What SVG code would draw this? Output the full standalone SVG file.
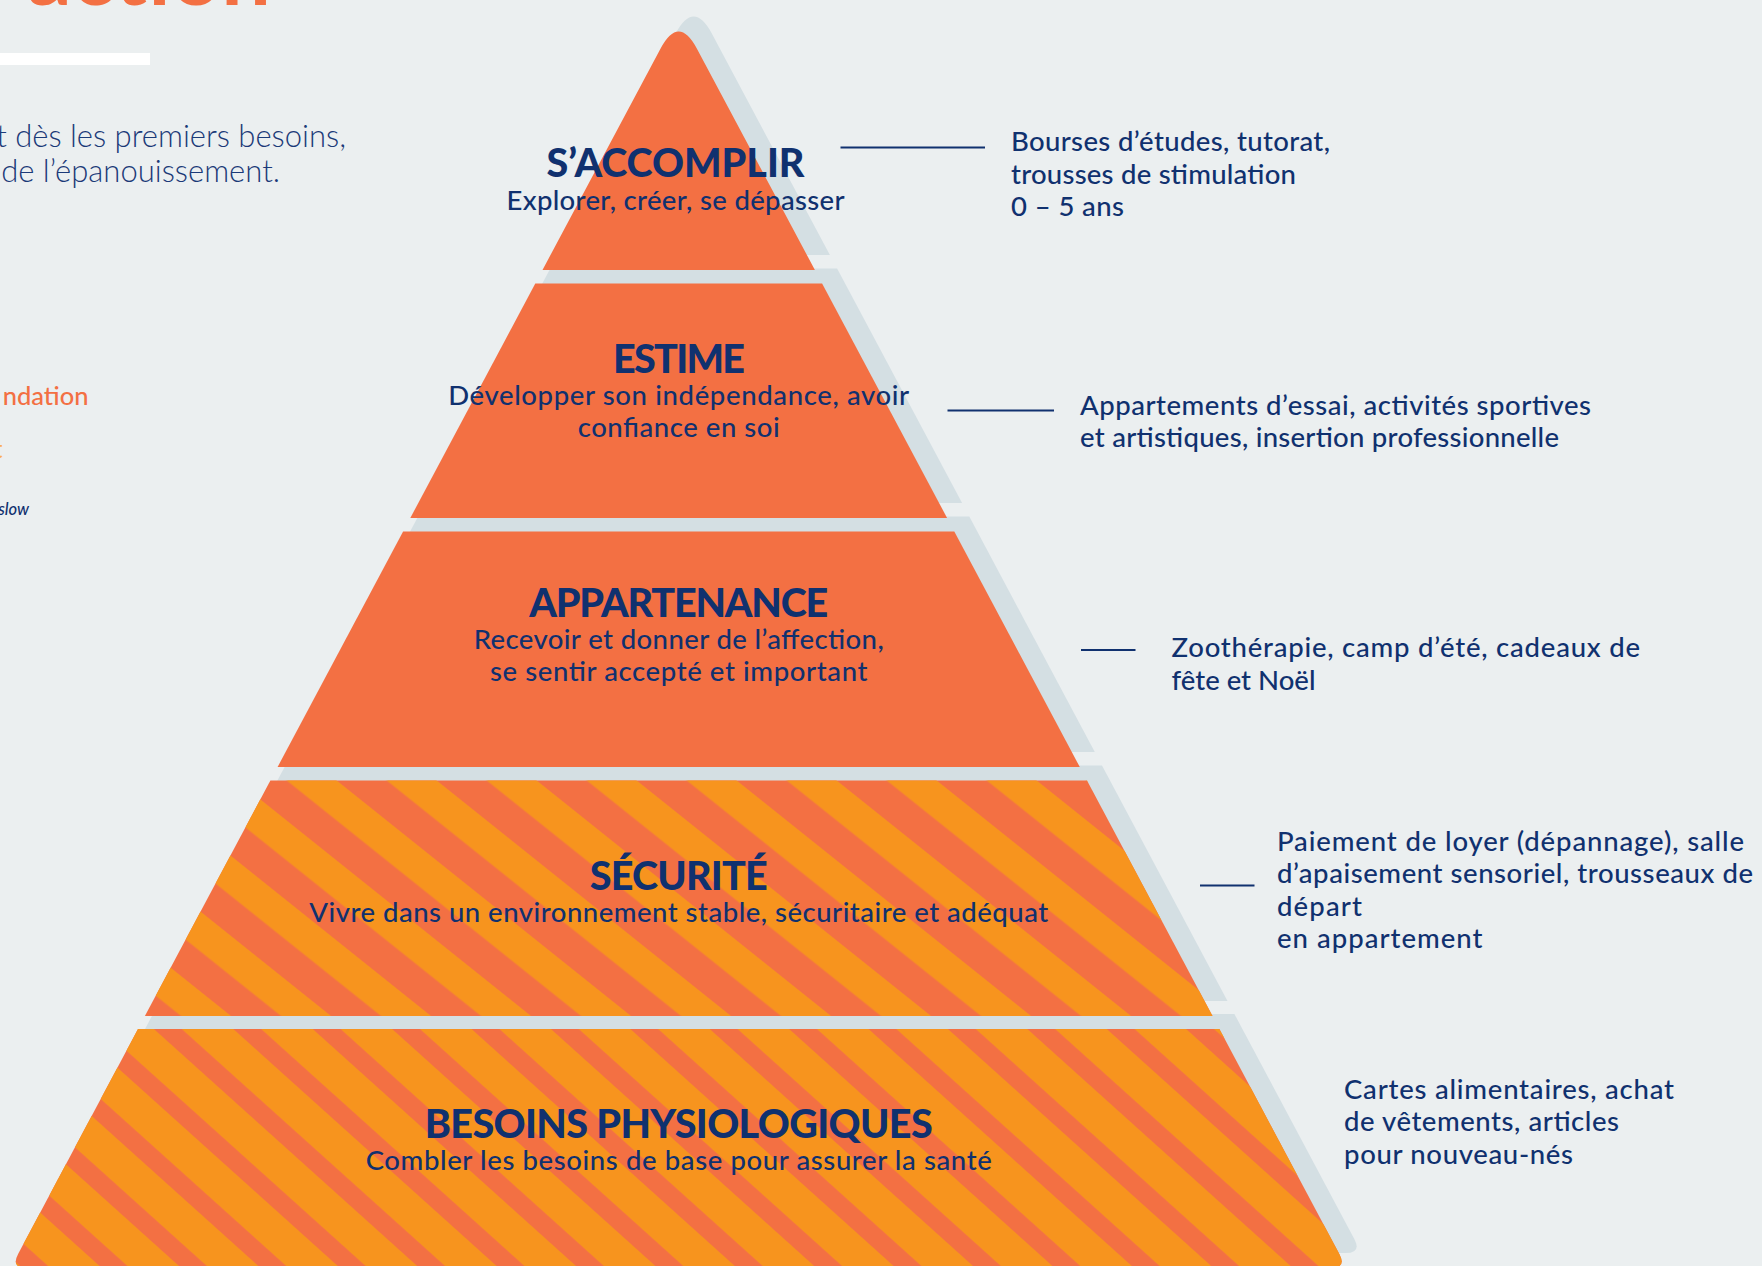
<svg xmlns="http://www.w3.org/2000/svg" width="1762" height="1266" viewBox="0 0 1762 1266">
<defs>
<style>
.sh{fill:#D4DFE3}
.or{fill:#F37043}
.t{font-family:Lato,"Noto Sans","Liberation Sans",sans-serif;fill:#10316F}
.ttl{font-weight:900;font-size:39.5px;text-anchor:middle}
.sub{font-weight:500;font-size:27.5px;text-anchor:middle}
.side{font-weight:500;font-size:27.5px}
.lead{font-weight:300;font-size:31px;text-anchor:end;fill:#1B3A78}
.con{stroke:#10316F;stroke-width:2;fill:none}
</style>
<pattern id="st4" patternUnits="userSpaceOnUse" width="400" height="62.47" patternTransform="translate(336.7,780.5) rotate(38.66)">
<rect x="-1" y="0" width="402" height="31.24" fill="#F7941E"/>
</pattern>
<pattern id="st5" patternUnits="userSpaceOnUse" width="400" height="53.12" patternTransform="translate(233.3,1029) rotate(41.99)">
<rect x="-1" y="0" width="402" height="34.5" fill="#F7941E"/>
</pattern>
<path id="p1" d="M660.6,48.5 Q678.7,14.5 696.8,48.5 L814.9,270 L542.5,270 Z"/>
<path id="p2" d="M535.3,283.5 L822.1,283.5 L947.1,518 L410.3,518 Z"/>
<path id="p3" d="M403.1,531.5 L954.3,531.5 L1079.8,767 L277.6,767 Z"/>
<path id="p4" d="M270.4,780.5 L1087,780.5 L1212.5,1016 L144.9,1016 Z"/>
<path id="p5" d="M138,1029 L1219.4,1029 L1339.3,1253.9 Q1346.8,1268 1330.8,1268 L26.6,1268 Q10.6,1268 18.1,1253.9 Z"/>
</defs>
<rect width="1762" height="1266" fill="#EBEFF0"/>

<g id="intro">
<text class="t" x="27" y="4.5" style="font-size:88px;font-weight:700;fill:#F37043">action</text>
<rect x="0" y="53" width="150" height="12" fill="#FFFFFF"/>
<text class="t lead" x="346" y="146.5">t dès les premiers besoins,</text>
<text class="t lead" x="280" y="182">de l’épanouissement.</text>
<text class="t" x="88.5" y="405" style="font-size:25.5px;font-weight:500;text-anchor:end;fill:#F37043">ndation</text>
<text class="t" x="2.5" y="458" style="font-size:25.5px;font-weight:500;text-anchor:end;fill:#F9AE56">t</text>
<text class="t" x="29" y="514.5" style="font-size:16.5px;font-weight:500;font-style:italic;text-anchor:end">slow</text>
</g>

<g id="shadows" transform="translate(15,-15)">
<use href="#p1" class="sh"/>
<use href="#p2" class="sh"/>
<use href="#p3" class="sh"/>
<use href="#p4" class="sh"/>
<use href="#p5" class="sh"/>
</g>

<g id="tier-accomplir">
<use href="#p1" class="or"/>
<text class="t ttl" x="675.5" y="177" textLength="258">S’ACCOMPLIR</text>
<text class="t sub" x="675.5" y="209.5" textLength="338">Explorer, créer, se dépasser</text>
</g>

<g id="tier-estime">
<use href="#p2" class="or"/>
<text class="t ttl" x="679" y="372.5" textLength="132">ESTIME</text>
<text class="t sub" x="678.7" y="404.5" textLength="461">Développer son indépendance, avoir</text>
<text class="t sub" x="678.7" y="436.5" textLength="202">confiance en soi</text>
</g>

<g id="tier-appartenance">
<use href="#p3" class="or"/>
<text class="t ttl" x="678.7" y="617" textLength="299">APPARTENANCE</text>
<text class="t sub" x="678.7" y="648.5" textLength="410">Recevoir et donner de l’affection,</text>
<text class="t sub" x="678.7" y="681" textLength="377.5">se sentir accepté et important</text>
</g>

<g id="tier-securite">
<use href="#p4" class="or"/>
<use href="#p4" fill="url(#st4)"/>
<text class="t ttl" x="678.7" y="890" textLength="178">SÉCURITÉ</text>
<text class="t sub" x="678.7" y="922" textLength="739">Vivre dans un environnement stable, sécuritaire et adéquat</text>
</g>

<g id="tier-physiologiques">
<use href="#p5" class="or"/>
<use href="#p5" fill="url(#st5)"/>
<text class="t ttl" x="678.7" y="1137.5" textLength="508">BESOINS PHYSIOLOGIQUES</text>
<text class="t sub" x="678.7" y="1170" textLength="626">Combler les besoins de base pour assurer la santé</text>
</g>

<g id="connectors">
<line class="con" x1="840.5" y1="147.5" x2="985" y2="147.5"/>
<line class="con" x1="947.5" y1="410.5" x2="1054" y2="410.5"/>
<line class="con" x1="1081" y1="650" x2="1135.5" y2="650"/>
<line class="con" x1="1200" y1="885.5" x2="1254.5" y2="885.5"/>
</g>

<g id="note-accomplir">
<text class="t side" x="1011" y="151" textLength="319">Bourses d’études, tutorat,</text>
<text class="t side" x="1011" y="183.5" textLength="285">trousses de stimulation</text>
<text class="t side" x="1011" y="216" textLength="113">0 – 5 ans</text>
</g>
<g id="note-estime">
<text class="t side" x="1080" y="414.5" textLength="511">Appartements d’essai, activités sportives</text>
<text class="t side" x="1080" y="447" textLength="479">et artistiques, insertion professionnelle</text>
</g>
<g id="note-appartenance">
<text class="t side" x="1171.5" y="657" textLength="468.5">Zoothérapie, camp d’été, cadeaux de</text>
<text class="t side" x="1171.5" y="689.5" textLength="144">fête et Noël</text>
</g>
<g id="note-securite">
<text class="t side" x="1277" y="851" textLength="467">Paiement de loyer (dépannage), salle</text>
<text class="t side" x="1277" y="883" textLength="476">d’apaisement sensoriel, trousseaux de</text>
<text class="t side" x="1277" y="915.5" textLength="85">départ</text>
<text class="t side" x="1277" y="948" textLength="205.5">en appartement</text>
</g>
<g id="note-physiologiques">
<text class="t side" x="1344" y="1099" textLength="330">Cartes alimentaires, achat</text>
<text class="t side" x="1344" y="1131" textLength="275">de vêtements, articles</text>
<text class="t side" x="1344" y="1163.5" textLength="229">pour nouveau-nés</text>
</g>
</svg>
